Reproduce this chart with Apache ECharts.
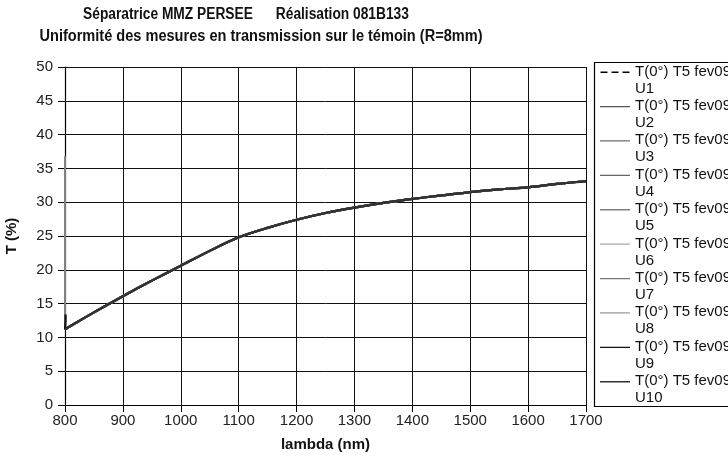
<!DOCTYPE html>
<html>
<head>
<meta charset="utf-8">
<script src="https://cdn.jsdelivr.net/npm/echarts@6/dist/echarts.min.js"></script>
<style>
  html, body { margin: 0; padding: 0; background: #fff; }
  #chart { width: 728px; height: 467px; }
</style>
</head>
<body>
<div id="chart"></div>
<script>
// Wavelength grid (nm) and the transmission curve T (%) shared by the 10 measurement points
const lambdaNm = [800, 850, 900, 950, 1000, 1050, 1100, 1150, 1200, 1250, 1300,
                  1350, 1400, 1450, 1500, 1550, 1600, 1650, 1700];
const transmission = [11.2, 13.7, 16.1, 18.4, 20.6, 22.8, 24.8, 26.2, 27.4, 28.4, 29.2,
                      29.9, 30.5, 31.0, 31.5, 31.9, 32.2, 32.7, 33.1];

// Measurement points U1..U10 and their line colours
const pointNames = ['U1', 'U2', 'U3', 'U4', 'U5', 'U6', 'U7', 'U8', 'U9', 'U10'];
const pointColors = ['#000000', '#555555', '#6f6f6f', '#666666', '#808080',
                     '#a8a8a8', '#777777', '#9a9a9a', '#111111', '#333333'];

// Start-of-scan artefacts: [lambda, T] points recorded before the curve begins
const startArtefacts = {
  U5: [[800, 36.8]],
  U9: [[801, 13.4], [801, 12.6]]
};

const yTicks = { min: 0, max: 50, step: 5 };
const xTicks = { min: 800, max: 1700, step: 100 };

const titleLines = [
  'Séparatrice MMZ PERSEE      Réalisation 081B133',
  'Uniformité des mesures en transmission sur le témoin (R=8mm)'
];
const legendLabel = 'T(0°) T5 fev09';
const font = 'Liberation Sans, Arial, Helvetica, sans-serif';

// Legend line samples: drawn on the first text line of each two-line entry
const solidIcon = 'path://M0,0H30V1.3H0Z M0,16.9H0.1V17H0Z';
const dashedIcon = 'path://M0,0H7V1.6H0Z M11,0H18V1.6H11Z M22,0H29V1.6H22Z M0,16.9H0.1V17H0Z';

const series = pointNames.map((name, i) => {
  const pre = startArtefacts[name] || [];
  const data = pre.concat(lambdaNm.map((x, k) => [x, transmission[k]]));
  return {
    name: legendLabel + ' ' + name,
    type: 'line',
    data: data,
    showSymbol: false,
    smooth: 0.3,
    color: pointColors[i],
    lineStyle: {
      color: pointColors[i],
      width: name === 'U5' ? 2 : 2.2,
      type: i === 0 ? [4, 3] : 'solid'
    },
    z: 2 + i
  };
});

const chart = echarts.init(document.getElementById('chart'), null, { renderer: 'canvas' });
chart.setOption({
  animation: false,
  backgroundColor: '#ffffff',
  grid: { left: 65, right: 142, top: 67, bottom: 62, containLabel: false, outerBoundsMode: 'none' },
  xAxis: {
    type: 'value',
    min: xTicks.min, max: xTicks.max, interval: xTicks.step,
    name: 'lambda (nm)', nameLocation: 'middle', nameGap: 32,
    nameTextStyle: { fontFamily: font, fontWeight: 'bold', fontSize: 15, color: '#111' },
    axisLine: { onZero: false, lineStyle: { color: '#000', width: 1.2 } },
    axisTick: { show: true, length: 7, lineStyle: { color: '#000' } },
    axisLabel: { fontFamily: font, fontSize: 15, color: '#222', margin: 8, formatter: v => String(v) },
    splitLine: { show: true, lineStyle: { color: '#111', width: 1 } }
  },
  yAxis: {
    type: 'value',
    min: yTicks.min, max: yTicks.max, interval: yTicks.step,
    name: 'T (%)', nameLocation: 'middle', nameGap: 46, nameRotate: 90,
    nameTextStyle: { fontFamily: font, fontWeight: 'bold', fontSize: 15, color: '#111' },
    axisLine: { show: true, lineStyle: { color: '#000', width: 1.2 } },
    axisTick: { show: true, length: 7, lineStyle: { color: '#000' } },
    axisLabel: { fontFamily: font, fontSize: 15, color: '#222', margin: 12, formatter: v => String(v) },
    splitLine: { show: true, lineStyle: { color: '#111', width: 1 } }
  },
  legend: {
    orient: 'vertical',
    left: 600, top: 63,
    padding: 0,
    itemWidth: 30, itemHeight: 17, itemGap: 0.4,
    formatter: n => n.replace(/ (U\d+)$/, '\n$1'),
    textStyle: { fontFamily: font, fontSize: 15, color: '#111', lineHeight: 17 },
    data: series.map((s, i) => ({ name: s.name, icon: i === 0 ? dashedIcon : solidIcon }))
  },
  graphic: [
    {
      type: 'rect', z: 100,
      shape: { x: 594.5, y: 62.5, width: 200, height: 344 },
      style: { fill: 'none', stroke: '#000', lineWidth: 1.2 }
    },
    {
      type: 'text', x: 246, y: 15, scaleX: 0.86,
      style: { text: titleLines[0], textAlign: 'center', textVerticalAlign: 'middle',
               font: 'bold 16px ' + font, fill: '#111' }
    },
    {
      type: 'text', x: 261, y: 37, scaleX: 0.91,
      style: { text: titleLines[1], textAlign: 'center', textVerticalAlign: 'middle',
               font: 'bold 16px ' + font, fill: '#111' }
    }
  ],
  series: series
});
</script>
</body>
</html>
